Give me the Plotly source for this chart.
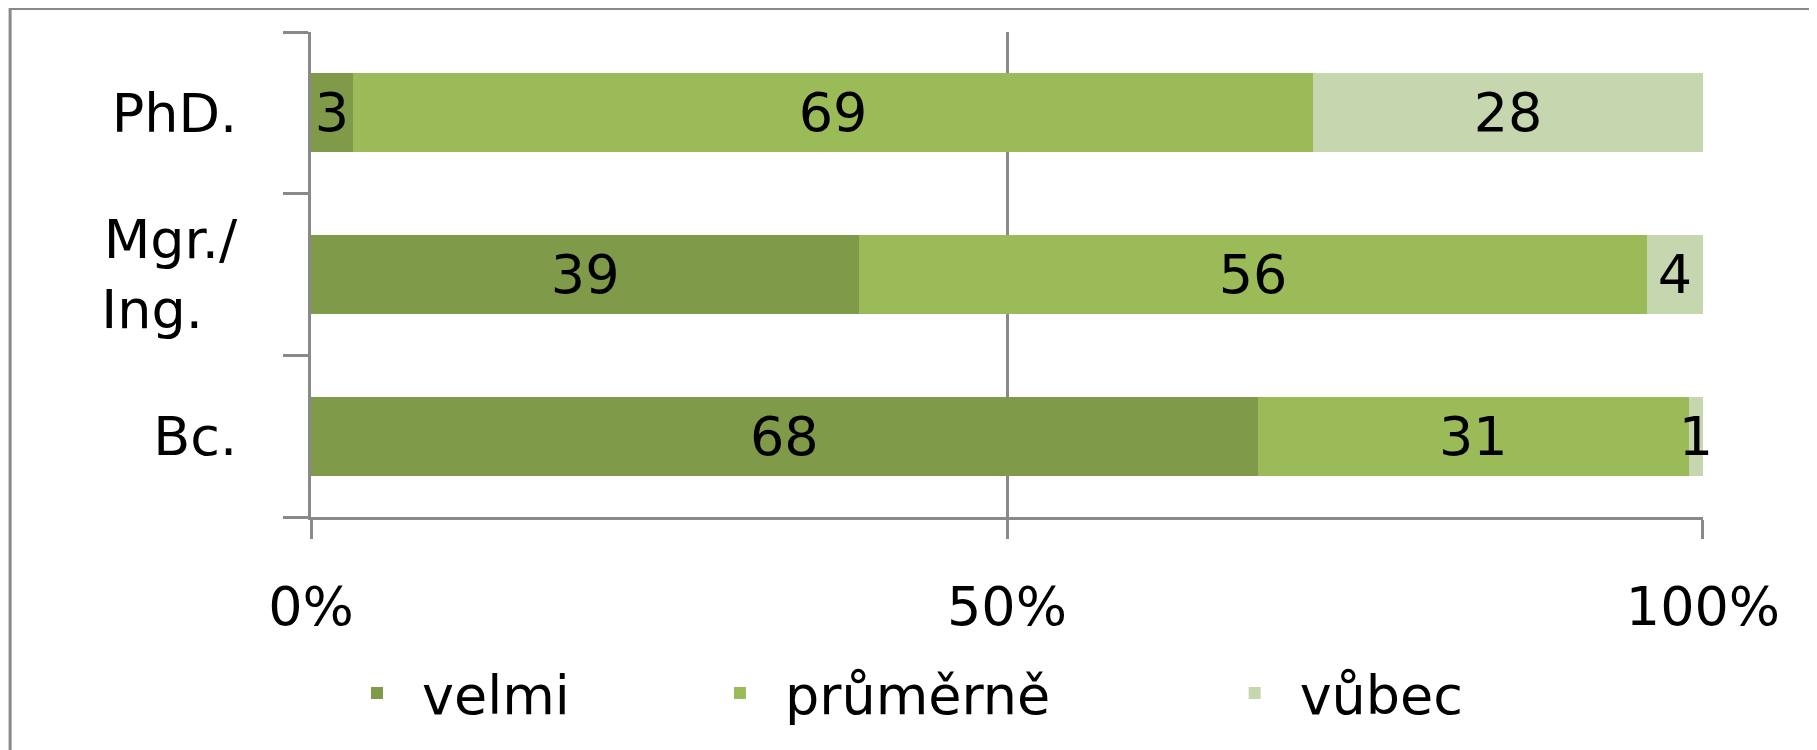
import plotly.graph_objects as go

# ---- data ----
categories = ["Bc.", "Mgr./<br>Ing.\u00a0\u00a0", "PhD."]
series_names = ["velmi", "průměrně", "vůbec"]
velmi = [68, 39, 3]
prumerne = [31, 56, 69]
vubec = [1, 4, 28]
x_tickvals = [0, 50, 100]
x_ticktext = ["0%", "50%", "100%"]

colors = ["#7F9A48", "#9BBB59", "#C6D6AE"]
legend_pad = ["\u00a0" * 7, "\u00a0" * 9, ""]
FONT = "DejaVu Sans"
FS = 54
GRID = "#898989"

fig = go.Figure()
for name, vals, col, pad in zip(series_names, [velmi, prumerne, vubec], colors, legend_pad):
    fig.add_trace(go.Bar(
        y=categories, x=vals, name=name + pad, orientation="h",
        marker=dict(color=col, line=dict(width=0)),
        text=[str(v) for v in vals], textposition="inside",
        insidetextanchor="middle", textangle=0, constraintext="none",
        textfont=dict(family=FONT, size=FS, color="black"),
        cliponaxis=False, hoverinfo="skip",
    ))

# page body adds an 8px offset, so the figure is 8px smaller
OFF = 8
W, H = 1817 - OFF, 750 - OFF
L, T = 311 - OFF, 32.4 - OFF
R = W - (1703.5 - OFF)
B = H - (516.8 - OFF)
pw = W - L - R
ph = H - T - B
bottom_px = T + ph

fig.update_layout(
    width=W, height=H,
    margin=dict(l=L, r=R, t=T, b=B, pad=0, autoexpand=False),
    barmode="stack", barnorm="percent", bargap=0.51,
    plot_bgcolor="white", paper_bgcolor="white",
    font=dict(family=FONT, size=FS, color="black"),
    showlegend=True,
    legend=dict(
        orientation="h", x=(332 - 311) / pw, xanchor="left",
        y=-((693 - OFF) - bottom_px) / ph, yanchor="middle",
        itemwidth=80, font=dict(family=FONT, size=FS, color="black"),
        bgcolor="rgba(0,0,0,0)", traceorder="normal",
    ),
    xaxis=dict(
        range=[0, 100.0005], tickvals=x_tickvals, ticktext=x_ticktext,
        showgrid=True, gridcolor=GRID, gridwidth=3,
        showline=True, linecolor=GRID, linewidth=3,
        ticks="outside", ticklen=19, tickwidth=3, tickcolor=GRID,
        ticklabelstandoff=21, zeroline=False,
        tickfont=dict(family=FONT, size=FS, color="black"),
    ),
    yaxis=dict(
        type="category", categoryorder="array", categoryarray=categories,
        showgrid=False, showline=True, linecolor=GRID, linewidth=3,
        ticks="outside", ticklen=25, tickwidth=3, tickcolor=GRID,
        tickson="boundaries", ticklabelstandoff=60,
        tickfont=dict(family=FONT, size=FS, color="black"),
    ),
    shapes=[dict(
        type="rect", xref="paper", yref="paper",
        x0=((10 - OFF) - L) / pw, x1=1.5, y0=-1.0, y1=(bottom_px - (9 - OFF)) / ph,
        line=dict(color=GRID, width=3), fillcolor="rgba(0,0,0,0)", layer="below",
    )],
)

fig.write_html("out.html")
